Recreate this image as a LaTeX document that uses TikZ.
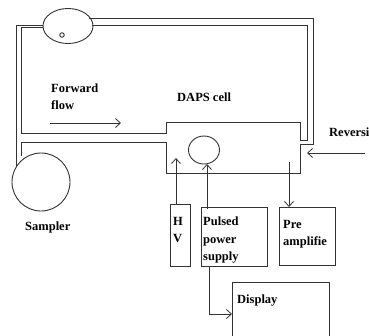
\documentclass[tikz,border=0pt]{standalone}
\usepackage{fontspec}
\setmainfont{Liberation Serif}
\usetikzlibrary{arrows.meta,positioning,calc,shapes.geometric}

\tikzset{
    pipe/.style={draw=black!80, line width=0.9pt},
    flowarrow/.style={-{Straight Barb[length=5pt,width=9pt]}, draw=black!80, line width=0.8pt},
    boxnode/.style={draw=black!80, line width=1pt, rectangle, inner sep=0pt, anchor=north west},
    labeltext/.style={font=\bfseries\fontsize{12.5}{17.2}\selectfont, align=left, inner sep=0pt, anchor=north west},
}

\begin{document}
\begin{tikzpicture}[x=1pt,y=-1pt]
    \useasboundingbox (0,0) rectangle (369,335);

    % Pump and sampler
    \node[pipe, ellipse, minimum width=50pt, minimum height=35pt, inner sep=0pt] (pump) at (68,26) {};
    \node[pipe, circle, minimum size=4.5pt, inner sep=0pt] (pumpvalve) at (62,35) {};
    \node[pipe, circle, minimum size=58pt, inner sep=0pt] (sampler) at (41,182) {};
    \node[pipe, ellipse, minimum width=31pt, minimum height=28pt, inner sep=0pt] (chamber) at (204,150) {};

    % Gas lines and cell wall
    \coordinate (samplertop) at (16,167);
    \coordinate (samplerinner) at (21,156);
    \draw[pipe] (samplertop) -- (16,25) -- (43,25);
    \draw[pipe] (21,27) -- (43,27);
    \draw[pipe] (21,27) -- (21,133) -- (166,133) -- (166,122) -- (300,122)
        -- (300,140) -- (307,140) -- (307,25) -- (92,25);
    \draw[pipe] (89,18) -- (313,18) -- (313,144) -- (300,144) -- (300,173)
        -- (166,173) -- (166,142) -- (21,142) -- (samplerinner);

    % Boxes
    \node[boxnode, minimum width=20pt, minimum height=62pt] (hv) at (170,204) {};
    \node[boxnode, minimum width=66pt, minimum height=59pt] (pulsed) at (201,207) {};
    \node[boxnode, minimum width=56pt, minimum height=58pt] (preamp) at (279,207) {};
    \node[boxnode, minimum width=97pt, minimum height=70pt] (display) at (232,282) {};

    % Labels
    \node[labeltext] (forwardlabel) at (51,83.5) {Forward\\flow};
    \node[labeltext] (dapslabel) at (177,93) {DAPS cell};
    \node[labeltext] (reverselabel) at (329,128) {Reversi};
    \node[labeltext] (samplerlabel) at (25,222) {Sampler};
    \node[labeltext] (hvlabel) at (173,217) {H\\V};
    \node[labeltext] (pulsedlabel) at (203,217) {Pulsed\\power\\supply};
    \node[labeltext] (preamplabel) at (283,220) {Pre\\amplifie};
    \node[labeltext] (displaylabel) at (237,295) {Display};

    % Flow arrows
    \coordinate (forwardstart) at (50,123);
    \coordinate (forwardend) at (121,123);
    \coordinate (reversestart) at (365,153);
    \coordinate (reverseend) at (307,153);
    \draw[flowarrow] (forwardstart) -- (forwardend);
    \draw[flowarrow] (reversestart) -- (reverseend);

    % Signal connectors
    \coordinate (hvtip) at (176,158);
    \coordinate (pretail) at (289,162);
    \draw[flowarrow] (hv.north west -| hvtip) -- (hvtip);
    \draw[flowarrow] (207,209) -- (207,164);
    \draw[flowarrow] (pretail) -- (pretail |- preamp.north);
    \draw[flowarrow] (209,266) -- (209,314) -- (232,314);
\end{tikzpicture}
\end{document}
